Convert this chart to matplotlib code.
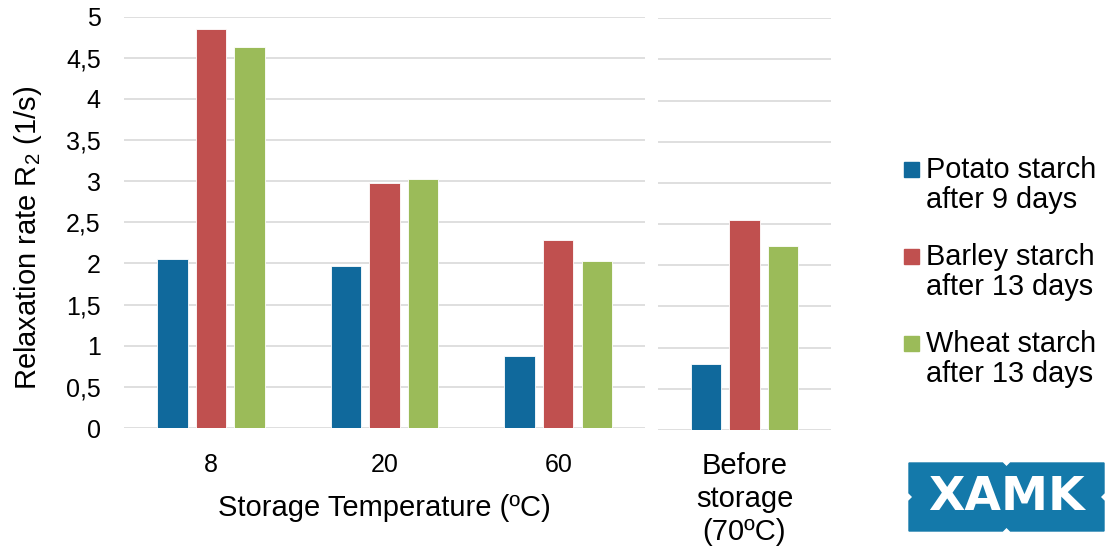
import matplotlib
matplotlib.use("Agg")
import matplotlib.pyplot as plt
from matplotlib.patches import Rectangle, Polygon
import numpy as np

plt.rcParams['font.family'] = ['Liberation Sans', 'DejaVu Sans']
plt.rcParams['mathtext.fontset'] = 'custom'
plt.rcParams['mathtext.rm'] = 'Liberation Sans'

# ---- data ----
categories = ['8', '20', '60']
potato = [2.06, 1.97, 0.87]
barley = [4.85, 2.98, 2.28]
wheat = [4.63, 3.03, 2.03]

before_label = ['Before\nstorage\n(70ºC)']
before_potato = [0.80]
before_barley = [2.55]
before_wheat = [2.24]

series_names = ['Potato starch\nafter 9 days', 'Barley starch\nafter 13 days', 'Wheat starch\nafter 13 days']
colors = ['#10699C', '#C0504F', '#9BBB59']
yticks = [0, 0.5, 1, 1.5, 2, 2.5, 3, 3.5, 4, 4.5, 5]
ytick_labels = ['0', '0,5', '1', '1,5', '2', '2,5', '3', '3,5', '4', '4,5', '5']

W, H = 1115, 548
fig = plt.figure(figsize=(W / 100, H / 100), dpi=100)

grid_c = '#D9D9D9'

def px_axes(x0, x1, ytop, ybot):
    return fig.add_axes([x0 / W, 1 - ybot / H, (x1 - x0) / W, (ybot - ytop) / H])

def style(ax):
    for s in ax.spines.values():
        s.set_visible(False)
    ax.set_ylim(0, 5)
    ax.set_yticks(yticks)
    ax.yaxis.grid(True, color=grid_c, linewidth=1.2)
    ax.set_axisbelow(True)
    ax.tick_params(length=0)

bw = 0.175
off = 0.222

ax1 = px_axes(124.3, 645, 16.7, 428)
x = np.arange(len(categories))
for i, vals in enumerate([potato, barley, wheat]):
    ax1.bar(x + (i - 1) * off, vals, bw, color=colors[i], edgecolor='white', linewidth=0.6, zorder=3)
ax1.set_xlim(-0.5, len(categories) - 0.5)
style(ax1)
ax1.set_yticklabels(ytick_labels, fontsize=18)
ax1.tick_params(axis='y', pad=17)
ax1.set_xticks(x)
ax1.set_xticklabels(categories, fontsize=18)
ax1.tick_params(axis='x', pad=18)

ax2 = px_axes(658, 831, 18.3, 430)
x2 = np.arange(len(before_label))
for i, vals in enumerate([before_potato, before_barley, before_wheat]):
    ax2.bar(x2 + (i - 1) * off, vals, bw, color=colors[i], edgecolor='white', linewidth=0.6, zorder=3)
ax2.set_xlim(-0.5, 0.5)
style(ax2)
ax2.set_yticklabels([])
ax2.set_xticks(x2)
ax2.set_xticklabels(before_label, fontsize=21, linespacing=1.23)
ax2.tick_params(axis='x', pad=16)

fig.text(384.6 / W, 1 - 507.5 / H, 'Storage Temperature (ºC)', fontsize=21,
         ha='center', va='center')
fig.text(28 / W, 1 - 237.5 / H, 'Relaxation rate R$_\\mathregular{2}$ (1/s)', fontsize=21,
         ha='center', va='center', rotation=90)

# ---- overlay for legend and logo ----
ov = fig.add_axes([0, 0, 1, 1])
ov.set_xlim(0, W)
ov.set_ylim(H, 0)
ov.axis('off')
ov.patch.set_alpha(0)

leg_base = [177.7, 264.7, 351.7]
pitch = 30.6
for i, name in enumerate(series_names):
    ov.add_patch(Rectangle((904, leg_base[i] - 15.5), 15, 15, color=colors[i]))
    ov.text(926, leg_base[i] + pitch, name, fontsize=20.8, ha='left', va='baseline', linespacing=1.12)

# logo
lx0, lx1, ly0, ly1 = 909, 1104, 463, 531
mx, my = (lx0 + lx1) / 2, (ly0 + ly1) / 2
n = 4
pts = [(lx0, ly0), (mx - n, ly0), (mx, ly0 + n), (mx + n, ly0), (lx1, ly0),
       (lx1, my - n), (lx1 - n, my), (lx1, my + n), (lx1, ly1),
       (mx + n, ly1), (mx, ly1 - n), (mx - n, ly1), (lx0, ly1),
       (lx0, my + n), (lx0 + n, my), (lx0, my - n)]
ov.add_patch(Polygon(pts, closed=True, color='#1479AA'))
ov.text(mx, 498, 'XAMK', fontsize=34, fontweight='heavy', family='DejaVu Sans',
        color='white', ha='center', va='center')

fig.savefig('out.png', dpi=100)
